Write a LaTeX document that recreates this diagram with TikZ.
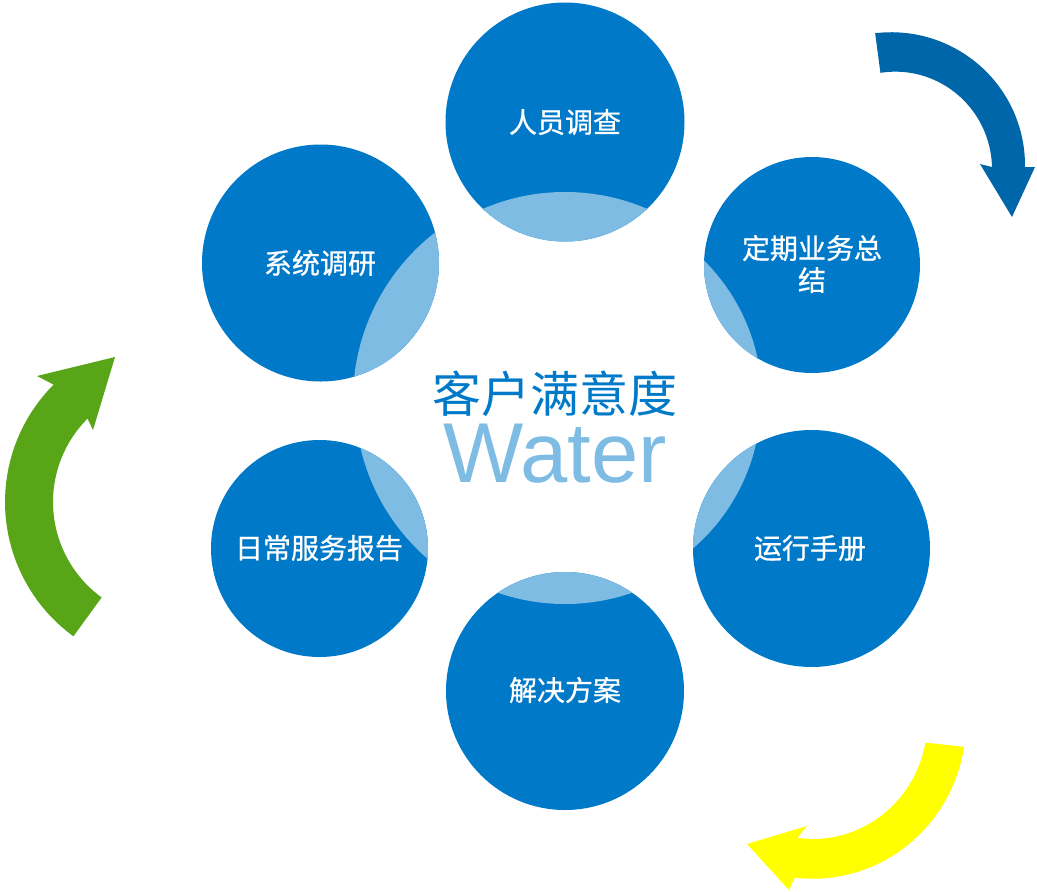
\documentclass[tikz,border=0pt]{standalone}
\usepackage{fontspec}
\setmainfont{Liberation Sans}
\newfontfamily\cjk{Noto Sans CJK SC}
\newfontfamily\cjkb[FakeBold=0.8]{Noto Sans CJK SC}
\definecolor{bblue}{HTML}{0079C8}
\definecolor{lblue}{HTML}{7FBCE3}
\definecolor{ablue}{HTML}{0066AA}
\definecolor{agreen}{HTML}{58A618}
\definecolor{ayellow}{HTML}{FFFF00}
\tikzset{
  bub/.style={circle, fill=bblue, draw=none, inner sep=0pt},
  lab/.style={text=white, inner sep=0pt, align=center, font=\cjkb\fontsize{28}{32}\selectfont},
}
\begin{document}
\begin{tikzpicture}[x=1pt,y=-1pt]
\useasboundingbox (0,0) rectangle (1037,892);
\coordinate (O) at (565,400);
% circles
\node[bub, minimum size=239pt] (c1) at (565,122) {};
\node[bub, minimum size=216pt] (c2) at (812,265) {};
\node[bub, minimum size=237pt] (c3) at (811.5,548.5) {};
\node[bub, minimum size=238pt] (c4) at (565,691) {};
\node[bub, minimum size=217pt] (c5) at (319.5,548.5) {};
\node[bub, minimum size=237pt] (c6) at (320.5,263) {};
% lenses
\begin{scope}\clip (c1.center) circle (119.5pt); \fill[lblue] (O) circle (208pt);\end{scope}
\begin{scope}\clip (c2.center) circle (108pt); \fill[lblue] (O) circle (197pt);\end{scope}
\begin{scope}\clip (c3.center) circle (118.5pt); \fill[lblue] (O) circle (196pt);\end{scope}
\begin{scope}\clip (c4.center) circle (119pt); \fill[lblue] (O) circle (204pt);\end{scope}
\begin{scope}\clip (c5.center) circle (108.5pt); \fill[lblue] (O) circle (210pt);\end{scope}
\begin{scope}\clip (c6.center) circle (118.5pt); \fill[lblue] (O) circle (212pt);\end{scope}
% labels
\node[lab] (t1) at (565,122) {人员调查};
\node[lab] (t2) at (812,264) {定期业务总\\结};
\node[lab] (t3) at (810,548) {运行手册};
\node[lab] (t4) at (565,690) {解决方案};
\node[lab] (t5) at (319,548) {日常服务报告};
\node[lab] (t6) at (320,263) {系统调研};
% centre text
\node[anchor=base, inner sep=0pt, text=bblue, font=\cjk\fontsize{49}{52}\selectfont] (title) at (555,412) {客户满意度};
\node[anchor=base, inner sep=0pt, text=lblue, font=\fontsize{85}{90}\selectfont] (water) at (555,482) {Water};
% blue arrow (centre 893,167)
\fill[ablue] plot[domain=97.6:0, samples=40, variable=\t] ({893+(132+3*\t/97.6)*cos(\t)}, {167-(132+3*\t/97.6)*sin(\t)})
  -- (1035,167) -- (1012,217) -- (980,164) -- (992,167)
  -- plot[domain=0:97.6, samples=40, variable=\t] ({893+(99-4*\t/97.6)*cos(\t)}, {167-(99-4*\t/97.6)*sin(\t)}) -- cycle;
% green arrow (centre 171,502)
\fill[agreen] plot[domain=234:135, samples=40, variable=\t] ({171+166*cos(\t)}, {502-166*sin(\t)})
  -- (37,376) -- (115,357) -- (93,430)
  -- plot[domain=135:234, samples=40, variable=\t] ({171+118*cos(\t)}, {502-118*sin(\t)}) -- cycle;
% yellow arrow (centre 805,730)
\fill[ayellow] plot[domain=-6:-94, samples=40, variable=\t] ({805+(160+12*(\t+6)/88)*cos(\t)}, {730-(160+12*(\t+6)/88)*sin(\t)})
  -- (789,890) -- (747,844) -- (807,826)
  -- plot[domain=-94:-6, samples=40, variable=\t] ({805+(121+13*(\t+6)/88)*cos(\t)}, {730-(121+13*(\t+6)/88)*sin(\t)}) -- cycle;
\end{tikzpicture}
\end{document}
